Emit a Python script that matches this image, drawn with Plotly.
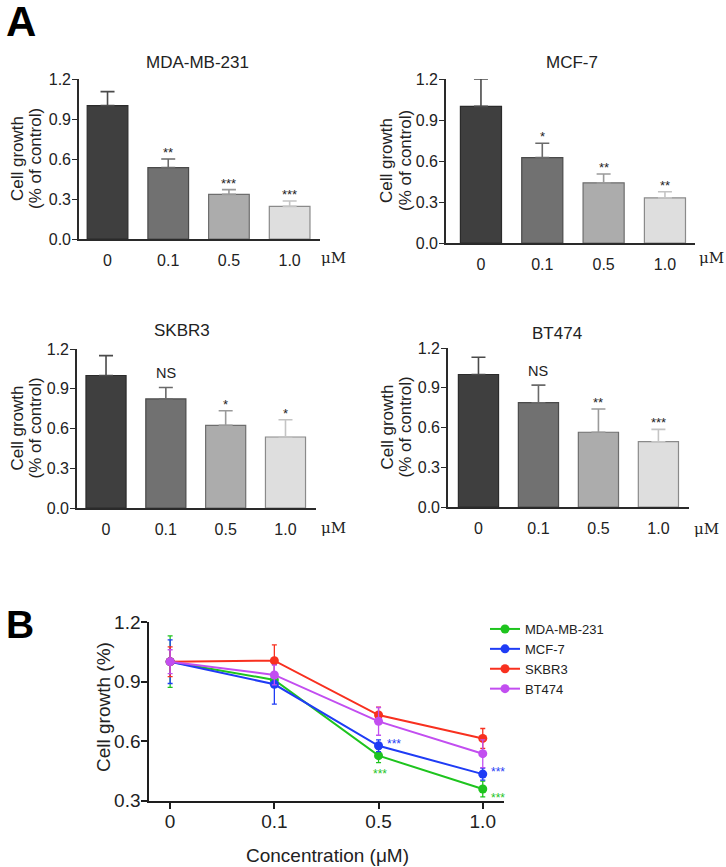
import plotly.graph_objects as go

# ---------------- data ----------------
conc_labels = ["0", "0.1", "0.5", "1.0"]

panel_names = ["MDA-MB-231", "MCF-7", "SKBR3", "BT474"]

mda_mean = [1.0, 0.535, 0.335, 0.245]
mda_err = [0.105, 0.065, 0.035, 0.04]
mda_sig = ["", "**", "***", "***"]

mcf_mean = [1.0, 0.625, 0.44, 0.33]
mcf_err = [0.2, 0.105, 0.065, 0.045]
mcf_sig = ["", "*", "**", "**"]

skbr_mean = [1.0, 0.823, 0.624, 0.536]
skbr_err = [0.15, 0.087, 0.11, 0.13]
skbr_sig = ["", "NS", "*", "*"]

bt_mean = [1.0, 0.787, 0.564, 0.493]
bt_err = [0.13, 0.133, 0.176, 0.093]
bt_sig = ["", "NS", "**", "***"]

line_mda = [1.0, 0.908, 0.526, 0.358]
line_mda_err = [0.13, 0.03, 0.035, 0.04]
line_mda_sig = ["", "", "***", "***"]

line_mcf = [1.0, 0.886, 0.576, 0.433]
line_mcf_err = [0.11, 0.10, 0.03, 0.03]
line_mcf_sig = ["", "", "***", "***"]

line_skbr = [1.0, 1.005, 0.731, 0.613]
line_skbr_err = [0.075, 0.08, 0.04, 0.05]

line_bt = [1.0, 0.933, 0.699, 0.536]
line_bt_err = [0.06, 0.05, 0.07, 0.07]

# ---------------- style ----------------
W, H = 726, 867
FONT = "Liberation Sans, Arial, sans-serif"
bar_fill = ["#3f3f3f", "#717171", "#acacac", "#dedede"]
bar_line = ["#2b2b2b", "#4a4a4a", "#6e6e6e", "#8a8a8a"]
bar_errc = ["#4a4a4a", "#6a6a6a", "#9a9a9a", "#c4c4c4"]
line_colors = ["#1ec41e", "#1f3cf5", "#f8301f", "#c24ef0"]


def px(x):
    return x / W


def py(y):
    return 1 - y / H


fig = go.Figure()

panels = [
    dict(mean=mda_mean, err=mda_err, sig=mda_sig, dom=(79, 320, 79, 239), xr=(-0.47, 3.5),
         title=(197, 62), ylab=(17, 35), mu=(333, 258)),
    dict(mean=mcf_mean, err=mcf_err, sig=mcf_sig, dom=(446, 695, 79, 243), xr=(-0.57, 3.49),
         title=(572, 62), ylab=(386, 405), mu=(711, 258)),
    dict(mean=skbr_mean, err=skbr_err, sig=skbr_sig, dom=(77, 316, 349, 508), xr=(-0.485, 3.51),
         title=(182, 330), ylab=(17, 35), mu=(333, 528)),
    dict(mean=bt_mean, err=bt_err, sig=bt_sig, dom=(448, 689, 348, 507), xr=(-0.508, 3.51),
         title=(557, 333), ylab=(387, 405), mu=(706, 529)),
]

annotations = []
layout_axes = {}

for i, p in enumerate(panels):
    n = i + 1
    xa = "x" if n == 1 else f"x{n}"
    ya = "y" if n == 1 else f"y{n}"
    xkey = "xaxis" if n == 1 else f"xaxis{n}"
    ykey = "yaxis" if n == 1 else f"yaxis{n}"
    for j, lab in enumerate(conc_labels):
        fig.add_trace(go.Bar(
            x=[lab], y=[p["mean"][j]], width=0.67,
            marker=dict(color=bar_fill[j], line=dict(color=bar_line[j], width=1.2)),
            error_y=dict(type="data", symmetric=False, array=[p["err"][j]], arrayminus=[0],
                         color=bar_errc[j], thickness=1.6, width=7),
            xaxis=xa, yaxis=ya, showlegend=False, hoverinfo="skip"))
        s = p["sig"][j]
        if s:
            is_ns = s == "NS"
            annotations.append(dict(
                x=j, y=p["mean"][j] + p["err"][j], xref=xa, yref=ya,
                text=s, showarrow=False, xanchor="center", yanchor="bottom",
                yshift=4 if is_ns else -3,
                font=dict(family=FONT, size=14.5 if is_ns else 13, color="#222")))
    x0, x1, yt, yb = p["dom"]
    layout_axes[xkey] = dict(
        domain=[px(x0), px(x1)], anchor=ya, type="category", categoryorder="array",
        categoryarray=conc_labels, range=list(p["xr"]), showline=True, linecolor="#2a2a2a",
        linewidth=1.6, ticks="outside", ticklen=6, tickcolor="rgba(0,0,0,0)",
        tickfont=dict(family=FONT, size=16, color="#222"), showgrid=False, zeroline=False,
        fixedrange=True)
    layout_axes[ykey] = dict(
        domain=[py(yb), py(yt)], anchor=xa, range=[0, 1.2], tickvals=[0, 0.3, 0.6, 0.9, 1.2],
        tickformat=".1f", showline=True, linecolor="#2a2a2a", linewidth=1.6, ticks="outside",
        ticklen=5, tickwidth=1.4, tickcolor="#2a2a2a", ticklabelstandoff=-2,
        tickfont=dict(family=FONT, size=16, color="#222"), showgrid=False, zeroline=False,
        fixedrange=True)
    tx, ty = p["title"]
    annotations.append(dict(x=px(tx), y=py(ty), xref="paper", yref="paper", text=panel_names[i],
                            showarrow=False, xanchor="center", yanchor="middle",
                            font=dict(family=FONT, size=17, color="#222")))
    ymid = (yt + yb) / 2
    annotations.append(dict(x=px(p["ylab"][0]), y=py(ymid), xref="paper", yref="paper",
                            text="Cell growth", textangle=-90, showarrow=False,
                            xanchor="center", yanchor="middle",
                            font=dict(family=FONT, size=17, color="#222")))
    annotations.append(dict(x=px(p["ylab"][1]), y=py(ymid), xref="paper", yref="paper",
                            text="(% of control)", textangle=-90, showarrow=False,
                            xanchor="center", yanchor="middle",
                            font=dict(family=FONT, size=17, color="#222")))
    mx, my = p["mu"]
    annotations.append(dict(x=px(mx), y=py(my), xref="paper", yref="paper", text="μM",
                            showarrow=False, xanchor="center", yanchor="middle",
                            font=dict(family="DejaVu Serif, serif", size=15, color="#222")))

# ---------------- panel B ----------------
series = [
    ("MDA-MB-231", line_mda, line_mda_err),
    ("MCF-7", line_mcf, line_mcf_err),
    ("SKBR3", line_skbr, line_skbr_err),
    ("BT474", line_bt, line_bt_err),
]
for k, (name, vals, errs) in enumerate(series):
    fig.add_trace(go.Scatter(
        x=conc_labels, y=vals, name=name, mode="lines+markers",
        line=dict(color=line_colors[k], width=2),
        marker=dict(color=line_colors[k], size=9),
        error_y=dict(type="data", array=errs, color=line_colors[k], thickness=1.3, width=2.5),
        xaxis="x5", yaxis="y5", hoverinfo="skip"))

for j, lab in enumerate(conc_labels):
    s = line_mda_sig[j]
    if s:
        right = j == 3
        annotations.append(dict(x=j, y=line_mda[j], xref="x5", yref="y5", text=s,
                                showarrow=False, xanchor="center", yanchor="middle",
                                xshift=15 if right else 1, yshift=-9 if right else -18,
                                font=dict(family=FONT, size=12, color=line_colors[0])))
    s = line_mcf_sig[j]
    if s:
        annotations.append(dict(x=j, y=line_mcf[j], xref="x5", yref="y5", text=s,
                                showarrow=False, xanchor="center", yanchor="middle",
                                xshift=15, yshift=2,
                                font=dict(family=FONT, size=12, color=line_colors[1])))

layout_axes["xaxis5"] = dict(
    domain=[px(149.3), px(503.6)], anchor="y5", type="category", categoryorder="array",
    categoryarray=conc_labels, range=[-0.2, 3.2], showline=True, linecolor="#1e1e1e",
    linewidth=2, ticks="outside", ticklen=6, tickwidth=2, tickcolor="#1e1e1e",
    ticklabelstandoff=-3,
    tickfont=dict(family=FONT, size=19, color="#222"), showgrid=False, zeroline=False,
    fixedrange=True)
layout_axes["yaxis5"] = dict(
    domain=[py(800.5), py(622)], anchor="x5", range=[0.3, 1.2],
    tickvals=[0.3, 0.6, 0.9, 1.2], tickformat=".1f", showline=True, linecolor="#1e1e1e",
    linewidth=2, ticks="outside", ticklen=6, tickwidth=2, tickcolor="#1e1e1e",
    ticklabelstandoff=-3,
    tickfont=dict(family=FONT, size=19, color="#222"), showgrid=False, zeroline=False,
    fixedrange=True)

annotations.append(dict(x=px(103), y=py(707), xref="paper", yref="paper",
                        text="Cell growth (%)", textangle=-90, showarrow=False,
                        xanchor="center", yanchor="middle",
                        font=dict(family=FONT, size=19, color="#222")))
annotations.append(dict(x=px(327), y=py(855), xref="paper", yref="paper",
                        text="Concentration (μM)", showarrow=False,
                        xanchor="center", yanchor="middle",
                        font=dict(family=FONT, size=19, color="#222")))

# panel letters
annotations.append(dict(x=px(21), y=py(21), xref="paper", yref="paper", text="<b>A</b>",
                        showarrow=False, xanchor="center", yanchor="middle",
                        font=dict(family=FONT, size=42, color="#000")))
annotations.append(dict(x=px(20), y=py(624), xref="paper", yref="paper", text="<b>B</b>",
                        showarrow=False, xanchor="center", yanchor="middle",
                        font=dict(family=FONT, size=39, color="#000")))

fig.update_layout(
    width=W, height=H, margin=dict(l=0, r=0, t=0, b=0, autoexpand=False),
    paper_bgcolor="white", plot_bgcolor="white", barmode="overlay",
    font=dict(family=FONT, color="#222"),
    annotations=annotations,
    legend=dict(x=px(485), y=py(614), xanchor="left", yanchor="top",
                font=dict(family=FONT, size=13, color="#222"), bgcolor="rgba(0,0,0,0)",
                tracegroupgap=0, itemwidth=30),
    **layout_axes,
)

fig.write_html("out.html", config={"displayModeBar": False},
               post_script="document.body.style.margin='0px';document.body.style.padding='0px';")
